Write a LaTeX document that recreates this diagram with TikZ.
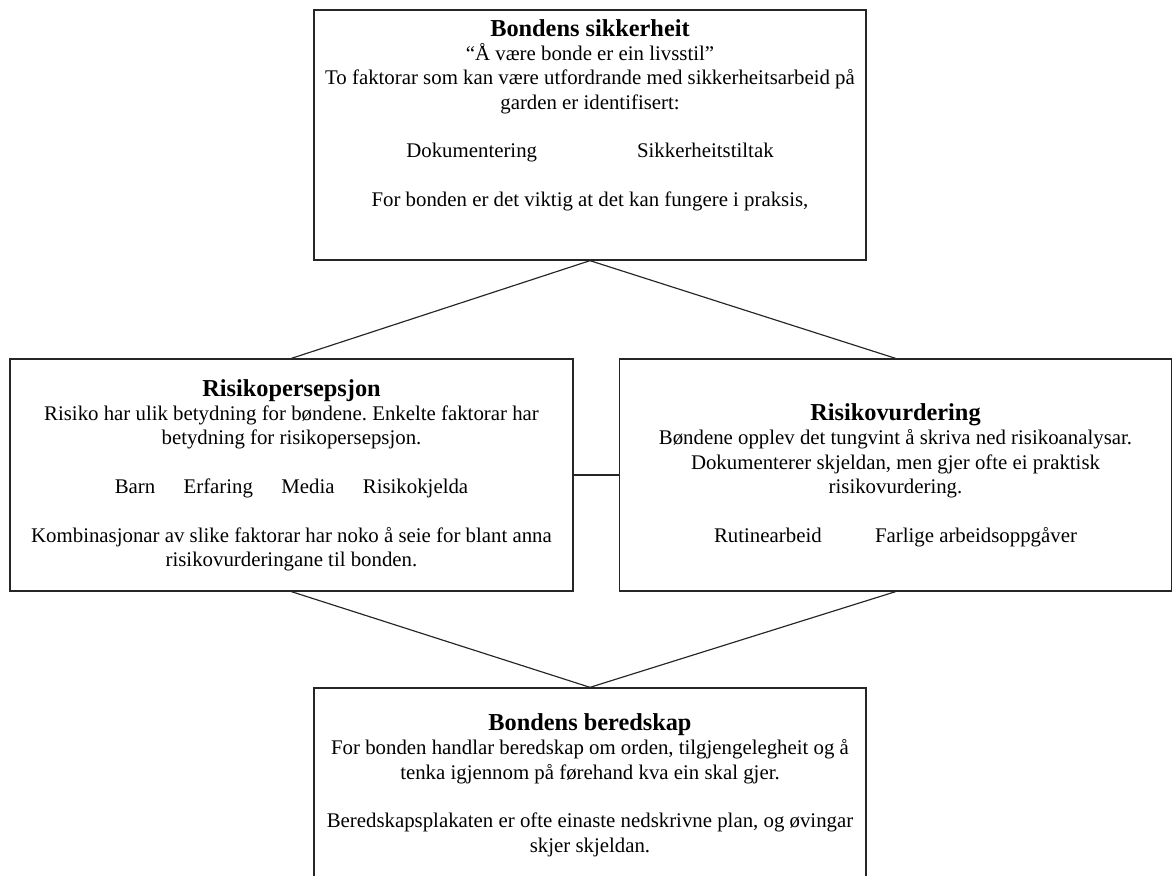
\documentclass[tikz,border=0pt]{standalone}
\usepackage{fontspec}
\setmainfont{Liberation Serif}
\frenchspacing
\usetikzlibrary{positioning}
\tikzstyle{box} = [rectangle, draw=black!85, text centered, align=center, line width=0.8pt, minimum width=331.2pt, minimum height=139.2pt, font=\fontsize{12.5}{14.6}\selectfont]
\tikzstyle{link} = [draw=black!85, line width=0.7pt]
\newcommand{\boxtitle}[1]{{\fontsize{14.6}{14.6}\selectfont\bfseries #1}}

\begin{document}
\begin{tikzpicture}[x=0.6pt, y=-0.6pt]
            \useasboundingbox (0,0) rectangle (1172,876);
            \clip (0,0) rectangle (1172,876);
            \node[box, minimum height=150pt] (sikkerheit) at (590,135) {\boxtitle{Bondens sikkerheit}\\
                ``Å være bonde er ein livsstil''\\
                To faktorar som kan være utfordrande med sikkerheitsarbeid på\\
                garden er identifisert:\\[14.6pt]
                Dokumentering\hspace{60pt}Sikkerheitstiltak\\[14.6pt]
                For bonden er det viktig at det kan fungere i praksis,\\[12pt]\mbox{}};
            \node[box, minimum width=337.8pt] (persepsjon) at (291.5,475) {\boxtitle{Risikopersepsjon}\\
                Risiko har ulik betydning for bøndene. Enkelte faktorar har\\
                betydning for risikopersepsjon.\\[14.6pt]
                Barn\hspace{17pt}Erfaring\hspace{17pt}Media\hspace{17pt}Risikokjelda\\[14.6pt]
                Kombinasjonar av slike faktorar har noko å seie for blant anna\\
                risikovurderingane til bonden.};
            \node[box, right of=persepsjon, node distance=362.4pt] (vurdering) {\boxtitle{Risikovurdering}\\
                Bøndene opplev det tungvint å skriva ned risikoanalysar.\\
                Dokumenterer skjeldan, men gjer ofte ei praktisk\\
                risikovurdering.\\[14.6pt]
                Rutinearbeid\hspace{32pt}Farlige arbeidsoppgåver};
            \node[box, below of=sikkerheit, node distance=390pt, minimum height=116.4pt] (beredskap) {\boxtitle{Bondens beredskap}\\
                For bonden handlar beredskap om orden, tilgjengelegheit og å\\
                tenka igjennom på førehand kva ein skal gjer.\\[14.6pt]
                Beredskapsplakaten er ofte einaste nedskrivne plan, og øvingar\\
                skjer skjeldan.};

            \path [link] (sikkerheit.south) -- (persepsjon.north);
            \path [link] (sikkerheit.south) -- (vurdering.north);
            \path [link] (persepsjon.east) -- (vurdering.west);
            \path [link] (persepsjon.south) -- (beredskap.north);
            \path [link] (vurdering.south) -- (beredskap.north);
        \end{tikzpicture}
\end{document}
